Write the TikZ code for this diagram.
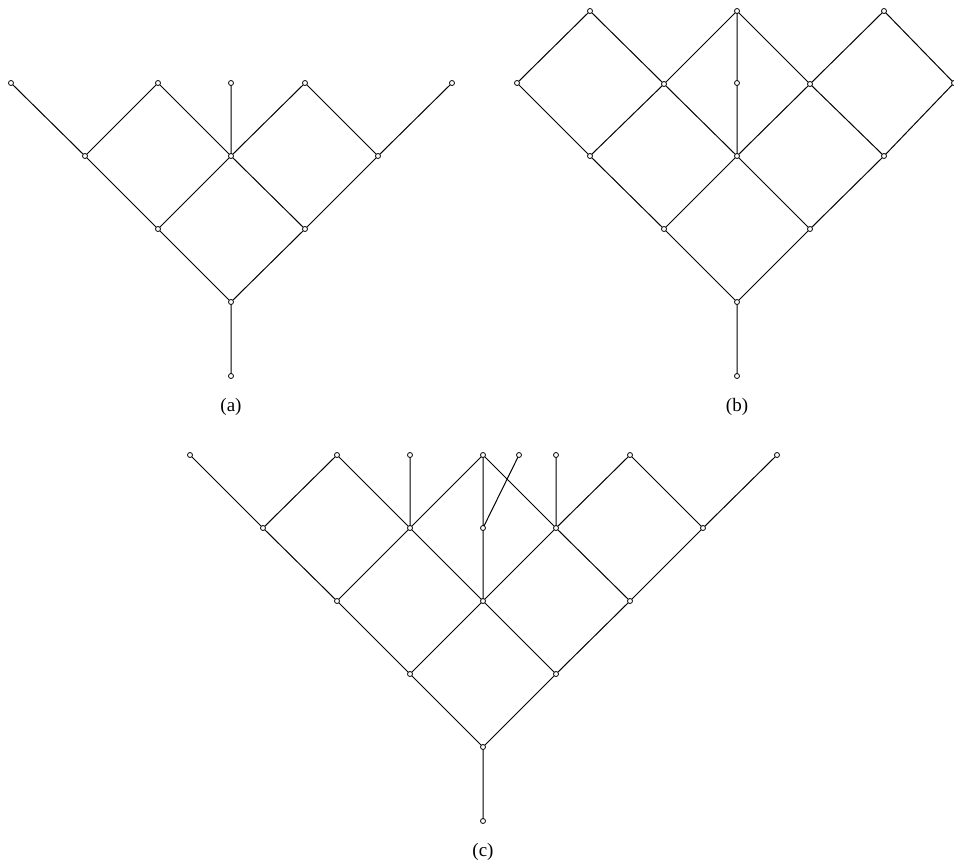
\documentclass[tikz,border=0pt]{standalone}
\usepackage{fontspec}
\setmainfont{Liberation Serif}
\begin{document}
\begin{tikzpicture}[x=1pt,y=-1pt,
  v/.style={circle,inner sep=0pt,minimum size=5pt},
  e/.style={line width=1pt},
  lab/.style={font=\fontsize{19}{22}\selectfont}]
\useasboundingbox (0,0) rectangle (954,865);
% ---------- (a)
\node[v] (a1) at (11,83) {};
\node[v] (a2) at (158,83) {};
\node[v] (a3) at (231,83) {};
\node[v] (a4) at (305,83) {};
\node[v] (a5) at (452,83) {};
\node[v] (a6) at (85,156) {};
\node[v] (a7) at (231,156) {};
\node[v] (a8) at (378,156) {};
\node[v] (a9) at (158,229) {};
\node[v] (a10) at (305,229) {};
\node[v] (a11) at (231,302) {};
\node[v] (a12) at (231,376) {};
\node[lab] (la) at (231,407) {(a)};
\draw[e] (a1.center)--(a6.center)--(a2.center)--(a7.center) (a3.center)--(a7.center)--(a4.center)--(a8.center)--(a5.center)
  (a6.center)--(a9.center)--(a7.center)--(a10.center)--(a8.center) (a9.center)--(a11.center)--(a10.center) (a11.center)--(a12.center);
% ---------- (b)
\node[v] (b1) at (590,11) {};
\node[v] (b2) at (737,11) {};
\node[v] (b3) at (884,11) {};
\node[v] (b4) at (517,83) {};
\node[v] (b5) at (664,84) {};
\node[v] (b6) at (737,83) {};
\node[v] (b7) at (810,84) {};
\node[v] (b8) at (954,83) {};
\node[v] (b9) at (590,156) {};
\node[v] (b10) at (737,156) {};
\node[v] (b11) at (884,156) {};
\node[v] (b12) at (664,229) {};
\node[v] (b13) at (810,229) {};
\node[v] (b14) at (737,302) {};
\node[v] (b15) at (737,376) {};
\node[lab] (lb) at (737,407) {(b)};
\draw[e] (b4.center)--(b1.center)--(b5.center)--(b2.center)--(b7.center)--(b3.center)--(b8.center)
  (b2.center)--(b6.center)--(b10.center)
  (b4.center)--(b9.center)--(b5.center)--(b10.center)--(b7.center)--(b11.center)--(b8.center)
  (b9.center)--(b12.center)--(b10.center)--(b13.center)--(b11.center)
  (b12.center)--(b14.center)--(b13.center) (b14.center)--(b15.center);
% ---------- (c)
\node[v] (c1) at (190,455) {};
\node[v] (c2) at (337,455) {};
\node[v] (c3) at (410,455) {};
\node[v] (c4) at (483,455) {};
\node[v] (c5) at (519,455) {};
\node[v] (c6) at (556,455) {};
\node[v] (c7) at (630,455) {};
\node[v] (c8) at (777,455) {};
\node[v] (c9) at (263,528) {};
\node[v] (c10) at (410,528) {};
\node[v] (c11) at (483,528) {};
\node[v] (c12) at (556,528) {};
\node[v] (c13) at (703,528) {};
\node[v] (c14) at (337,601) {};
\node[v] (c15) at (483,601) {};
\node[v] (c16) at (630,601) {};
\node[v] (c17) at (410,674) {};
\node[v] (c18) at (556,674) {};
\node[v] (c19) at (483,747) {};
\node[v] (c20) at (483,821) {};
\node[lab] (lc) at (483,852) {(c)};
\draw[e] (c1.center)--(c9.center)--(c2.center)--(c10.center) (c3.center)--(c10.center)--(c4.center)--(c12.center)
  (c4.center)--(c11.center) (c5.center)--(c11.center) (c6.center)--(c12.center)--(c7.center)--(c13.center)--(c8.center)
  (c9.center)--(c14.center)--(c10.center)--(c15.center) (c11.center)--(c15.center)--(c12.center)--(c16.center)--(c13.center)
  (c14.center)--(c17.center)--(c15.center)--(c18.center)--(c16.center)
  (c17.center)--(c19.center)--(c18.center) (c19.center)--(c20.center);
% vertices on top
\foreach \n in {a1,a2,a3,a4,a5,a6,a7,a8,a9,a10,a11,a12,
  b1,b2,b3,b4,b5,b6,b7,b8,b9,b10,b11,b12,b13,b14,b15,
  c1,c2,c3,c4,c5,c6,c7,c8,c9,c10,c11,c12,c13,c14,c15,c16,c17,c18,c19,c20}
  \draw[line width=0.8pt,fill=white] (\n.center) circle (2.5pt);
\end{tikzpicture}
\end{document}
